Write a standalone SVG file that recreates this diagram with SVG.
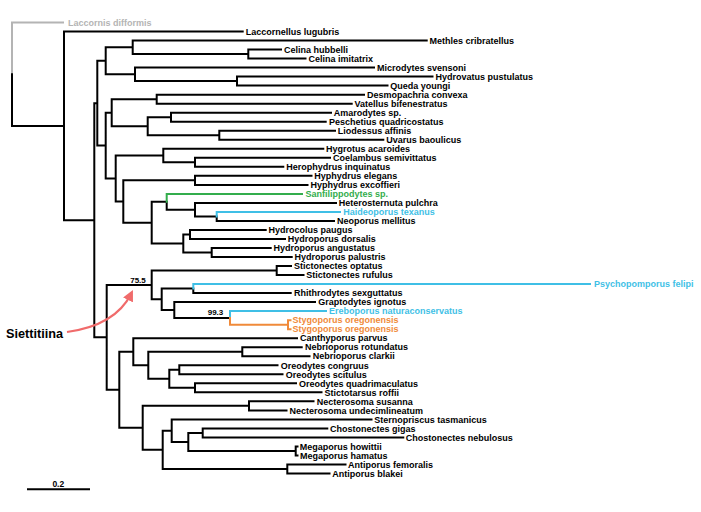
<svg xmlns="http://www.w3.org/2000/svg" width="701" height="512" viewBox="0 0 701 512">
<style>
.t{font-family:"Liberation Sans",Arial,sans-serif;font-weight:bold;font-size:9px;fill:#000}
.k{fill:none;stroke:#000;stroke-width:2;stroke-linecap:square}
.gray{fill:none;stroke:#b4b4b4;stroke-width:2;stroke-linecap:square}
.green{fill:none;stroke:#33ad4c;stroke-width:2;stroke-linecap:square}
.blue{fill:none;stroke:#3fbfe6;stroke-width:2;stroke-linecap:square}
.orange{fill:none;stroke:#f08a3a;stroke-width:2;stroke-linecap:square}
.tg{fill:#b4b4b4}.tgr{fill:#33ad4c}.tb{fill:#3fbfe6}.to{fill:#f08a3a}
.sup{font-family:"Liberation Sans",Arial,sans-serif;font-weight:bold;font-size:8px;fill:#000}
</style>
<defs>
<marker id="ah" viewBox="0 0 10 10" refX="6" refY="5" markerWidth="5" markerHeight="5" orient="auto" markerUnits="strokeWidth">
<path d="M0,0 L10,5 L0,10 z" fill="#f06b6b"/>
</marker>
</defs>
<rect width="701" height="512" fill="#fff"/>
<g id="connectors">
<path class="gray" d="M12,74.2 V22.5 H63"/>
<path class="k" d="M12,74.2 V125.9 H64
M64,31.5 V220.25 M64,31.5 H242.7 M64,220.25 H94.3
M94.3,103.2 V337.3 M94.3,103.2 H97.3 M94.3,337.3 H106.7
M97.3,60.8 V145.6 M97.3,60.8 H105.7 M97.3,145.6 H105.7
M105.7,47.3 V74.35 M105.7,47.3 H132.7 M105.7,74.35 H135
M132.7,40.5 V54.1 M132.7,40.5 H426.7 M132.7,54.1 H248.3
M248.3,49.6 V58.6 M248.3,49.6 H281 M248.3,58.6 H305.5
M135,67.6 V81.1 M135,67.6 H374 M135,81.1 H237
M237,76.6 V85.6 M237,76.6 H432.5 M237,85.6 H387.5
M105.7,112.7 V178.5 M105.7,112.7 H111.7 M105.7,178.5 H115.7
M111.7,99.2 V126.2 M111.7,99.2 H156.7 M111.7,126.2 H147.7
M156.7,94.7 V103.7 M156.7,94.7 H364 M156.7,103.7 H351.7
M147.7,117.2 V135.25 M147.7,117.2 H171 M147.7,135.25 H219.3
M171,112.7 V121.7 M171,112.7 H331 M171,121.7 H325.7
M219.3,130.7 V139.8 M219.3,130.7 H335 M219.3,139.8 H383.3
M115.7,155.55 V201.5 M115.7,155.55 H163.3 M115.7,201.5 H123.3
M163.3,148.8 V162.3 M163.3,148.8 H323.3 M163.3,162.3 H195
M195,157.8 V166.8 M195,157.8 H330 M195,166.8 H283.3
M123.3,180.35 V222.65 M123.3,180.35 H195 M123.3,222.65 H151.7
M195,175.8 V184.9 M195,175.8 H311.5 M195,184.9 H307.5
M151.7,201.8 V243.5 M151.7,201.8 H166.7 M151.7,243.5 H183.3
M166.7,201.8 V209.65 H195
M195,202.9 V216.4 M195,202.9 H336 M195,216.4 H216.7
M216.7,216.4 V220.9 H334
M183.3,234.5 V252.5 M183.3,234.5 H190 M183.3,252.5 H211.7
M190,230 V239 M190,230 H265.7 M190,239 H285
M211.7,248 V257 M211.7,248 H270.7 M211.7,257 H291.7
M106.7,284.9 V389.75 M106.7,284.9 H151.7 M106.7,389.75 H119.3
M151.7,270.55 V299.3 M151.7,270.55 H276.7 M151.7,299.3 H161.7
M276.7,266 V275.1 M276.7,266 H291 M276.7,275.1 H303.5
M161.7,288.6 V310 M161.7,288.6 H193.3 M161.7,310 H174.3
M193.3,288.6 V293.1 H290.7
M174.3,302.1 V317.9 M174.3,302.1 H315 M174.3,317.9 H230
M119.3,351.7 V427.8 M119.3,351.7 H133.3 M119.3,427.8 H142.7
M133.3,338.2 V365.25 M133.3,338.2 H297 M133.3,365.25 H148.3
M148.3,351.7 V378.8 M148.3,351.7 H242.3 M148.3,378.8 H169.3
M242.3,347.2 V356.2 M242.3,347.2 H301.7 M242.3,356.2 H309.5
M169.3,369.8 V387.8 M169.3,369.8 H179.3 M169.3,387.8 H195
M179.3,365.3 V374.3 M179.3,365.3 H277.5 M179.3,374.3 H282.5
M195,383.3 V392.3 M195,383.3 H296 M195,392.3 H321.5
M142.7,405.85 V449.8 M142.7,405.85 H249 M142.7,449.8 H162.7
M249,401.3 V410.4 M249,401.3 H313.5 M249,410.4 H286.5
M162.7,430.65 V469 M162.7,430.65 H171.7 M162.7,469 H287.3
M171.7,419.4 V441.9 M171.7,419.4 H371.5 M171.7,441.9 H188.3
M188.3,432.9 V450.95 M188.3,432.9 H202.7 M188.3,450.95 H295.7
M202.7,428.4 V437.4 M202.7,428.4 H327.3 M202.7,437.4 H403.3
M295.7,446.4 V455.5 M295.7,446.4 H297.5 M295.7,455.5 H297.5
M287.3,464.5 V473.5 M287.3,464.5 H345.5 M287.3,473.5 H329.5"/>
<path class="green" d="M166.7,201.8 V193.9 H302"/>
<path class="blue" d="M216.7,216.4 V211.9 H340"/>
<path class="blue" d="M193.3,288.6 V284.1 H590"/>
<path class="blue" d="M230,317.9 V311.1 H326"/>
<path class="orange" d="M230,317.9 V324.7 H288 M288,320.2 V329.2 M288,320.2 H290.5 M288,329.2 H290.5"/>
<path d="M67,332 C96,328 120,316 131,294" fill="none" stroke="#f06b6b" stroke-width="2.2" marker-end="url(#ah)"/>
<path class="k" d="M28,489.3 H89"/>
</g>
<g id="n1"><text class="t tg" x="68" y="25.7">Laccornis difformis</text></g>
<g id="n2"><text class="t" x="245.7" y="34.7">Laccornellus lugubris</text></g>
<g id="n3"><text class="t" x="429.5" y="43.7">Methles cribratellus</text></g>
<g id="n4"><text class="t" x="284" y="52.8">Celina hubbelli</text></g>
<g id="n5"><text class="t" x="308.5" y="61.8">Celina imitatrix</text></g>
<g id="n6"><text class="t" x="377" y="70.8">Microdytes svensoni</text></g>
<g id="n7"><text class="t" x="435.5" y="79.8">Hydrovatus pustulatus</text></g>
<g id="n8"><text class="t" x="390.3" y="88.8">Queda youngi</text></g>
<g id="n9"><text class="t" x="367" y="97.9">Desmopachria convexa</text></g>
<g id="n10"><text class="t" x="354.5" y="106.9">Vatellus bifenestratus</text></g>
<g id="n11"><text class="t" x="333.8" y="115.9">Amarodytes sp.</text></g>
<g id="n12"><text class="t" x="329" y="124.9">Peschetius quadricostatus</text></g>
<g id="n13"><text class="t" x="337.8" y="133.9">Liodessus affinis</text></g>
<g id="n14"><text class="t" x="386.2" y="143">Uvarus baoulicus</text></g>
<g id="n15"><text class="t" x="326" y="152">Hygrotus acaroides</text></g>
<g id="n16"><text class="t" x="333" y="161">Coelambus semivittatus</text></g>
<g id="n17"><text class="t" x="286.3" y="170">Herophydrus inquinatus</text></g>
<g id="n18"><text class="t" x="314.3" y="179">Hyphydrus elegans</text></g>
<g id="n19"><text class="t" x="310.5" y="188.1">Hyphydrus excoffieri</text></g>
<g id="n20"><text class="t tgr" x="305.5" y="197.1">Sanfilippodytes sp.</text></g>
<g id="n21"><text class="t" x="338.8" y="206.1">Heterosternuta pulchra</text></g>
<g id="n22"><text class="t tb" x="343.3" y="215.1">Haideoporus texanus</text></g>
<g id="n23"><text class="t" x="337" y="224.1">Neoporus mellitus</text></g>
<g id="n24"><text class="t" x="268.5" y="233.2">Hydrocolus paugus</text></g>
<g id="n25"><text class="t" x="287.8" y="242.2">Hydroporus dorsalis</text></g>
<g id="n26"><text class="t" x="273.5" y="251.2">Hydroporus angustatus</text></g>
<g id="n27"><text class="t" x="294.5" y="260.2">Hydroporus palustris</text></g>
<g id="n28"><text class="t" x="294" y="269.2">Stictonectes optatus</text></g>
<g id="n29"><text class="t" x="306.3" y="278.3">Stictonectes rufulus</text></g>
<g id="n30"><text class="t tb" x="594" y="287.3">Psychopomporus felipi</text></g>
<g id="n31"><text class="t" x="294" y="296.3">Rhithrodytes sexguttatus</text></g>
<g id="n32"><text class="t" x="318.3" y="305.3">Graptodytes ignotus</text></g>
<g id="n33"><text class="t tb" x="329" y="314.3">Ereboporus naturaconservatus</text></g>
<g id="n34"><text class="t to" x="292.5" y="323.4">Stygoporus oregonensis</text></g>
<g id="n35"><text class="t to" x="292.5" y="332.4">Stygoporus oregonensis</text></g>
<g id="n36"><text class="t" x="300" y="341.4">Canthyporus parvus</text></g>
<g id="n37"><text class="t" x="305" y="350.4">Nebrioporus rotundatus</text></g>
<g id="n38"><text class="t" x="312.7" y="359.4">Nebrioporus clarkii</text></g>
<g id="n39"><text class="t" x="280.7" y="368.5">Oreodytes congruus</text></g>
<g id="n40"><text class="t" x="285.7" y="377.5">Oreodytes scitulus</text></g>
<g id="n41"><text class="t" x="299" y="386.5">Oreodytes quadrimaculatus</text></g>
<g id="n42"><text class="t" x="324.5" y="395.5">Stictotarsus roffii</text></g>
<g id="n43"><text class="t" x="316.7" y="404.5">Necterosoma susanna</text></g>
<g id="n44"><text class="t" x="289.5" y="413.6">Necterosoma undecimlineatum</text></g>
<g id="n45"><text class="t" x="374.3" y="422.6">Sternopriscus tasmanicus</text></g>
<g id="n46"><text class="t" x="330" y="431.6">Chostonectes gigas</text></g>
<g id="n47"><text class="t" x="405.8" y="440.6">Chostonectes nebulosus</text></g>
<g id="n48"><text class="t" x="299.7" y="449.6">Megaporus howittii</text></g>
<g id="n49"><text class="t" x="300" y="458.7">Megaporus hamatus</text></g>
<g id="n50"><text class="t" x="348" y="467.7">Antiporus femoralis</text></g>
<g id="n51"><text class="t" x="332.3" y="476.7">Antiporus blakei</text></g>
<g id="support"><text class="sup" x="138" y="283.3" text-anchor="middle">75.5</text><text class="sup" x="215.5" y="314.8" text-anchor="middle">99.3</text></g>
<g id="siettitiina"><text x="6" y="337.5" font-family="Liberation Sans, Arial, sans-serif" font-weight="bold" font-size="12.7">Siettitiina</text></g>
<g id="scale"><text x="58.3" y="487" text-anchor="middle" font-family="Liberation Sans, Arial, sans-serif" font-weight="bold" font-size="8.5">0.2</text></g>
</svg>
